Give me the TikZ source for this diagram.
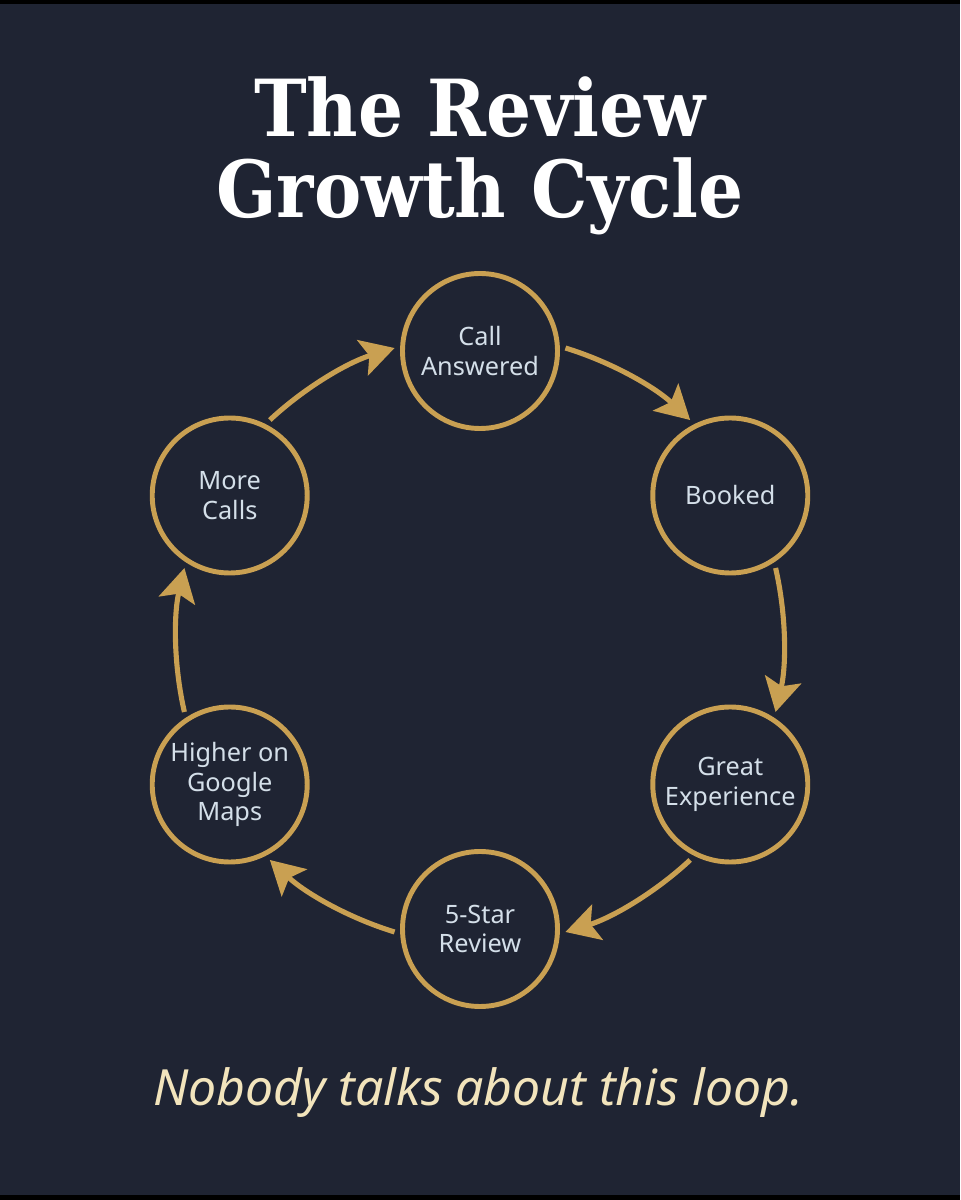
\documentclass[tikz,border=0pt]{standalone}
\usepackage{fontspec}
\setmainfont{Noto Sans}
\newfontfamily\titlefont{DejaVu Serif Condensed}
\usetikzlibrary{arrows.meta}
\definecolor{bg}{HTML}{1F2433}
\definecolor{gold}{HTML}{C9A052}
\definecolor{nodetext}{HTML}{D4DFE9}
\definecolor{cream}{HTML}{F2E4BC}
\begin{document}
\begin{tikzpicture}[>={Stealth[length=9.5pt, width=10.5pt, inset=2pt]},
  stage/.style={circle, draw=gold, line width=1.4pt, minimum size=1.55cm, inner sep=0pt, outer sep=0.08cm, text=nodetext, font=\fontsize{7.2}{8.5}\selectfont, align=center},
  feed/.style={->, draw=gold, line width=1.45pt},
  heading/.style={font=\titlefont\bfseries\fontsize{22.4}{24}\selectfont, text=white, anchor=base}]
\useasboundingbox (0,0) rectangle (9.6,12);
\fill[bg] (0,0) rectangle (9.6,12);
\fill[black] (0,11.96) rectangle (9.6,12);
\fill[black] (0,0) rectangle (9.6,0.05);
\node[heading] (title1) at (4.8,10.63) {The Review};
\node[heading] (title2) at (4.8,9.82) {Growth Cycle};
\coordinate (hub) at (4.8,5.6);
\foreach \name/\ang/\txt in {answered/90/{Call\\Answered}, booked/30/Booked, experience/-30/{Great\\Experience}, review/-90/{5-Star\\Review}, maps/-150/{Higher on\\Google\\Maps}, more/150/{More\\Calls}}
{
    \node[stage] (\name) at ([shift={(\ang:2.89)}]hub) {\txt};
}
\foreach \a/\b/\m in {answered/booked/60, booked/experience/0, experience/review/-60, review/maps/-120, maps/more/180, more/answered/120}
{
    \pgfmathtruncatemacro\sa{\m-58}
    \pgfmathtruncatemacro\ea{\m+58}
    \pgfmathtruncatemacro\oa{\m-77}
    \pgfmathtruncatemacro\ia{\m+77}
    \draw[feed] (\a.\sa) to[out=\oa, in=\ia, looseness=0.86] (\b.\ea);
}
\node[font=\itshape\fontsize{14.2}{17}\selectfont, text=cream, anchor=base] (tagline) at (4.78,0.95) {Nobody talks about this loop.};
\end{tikzpicture}
\end{document}
